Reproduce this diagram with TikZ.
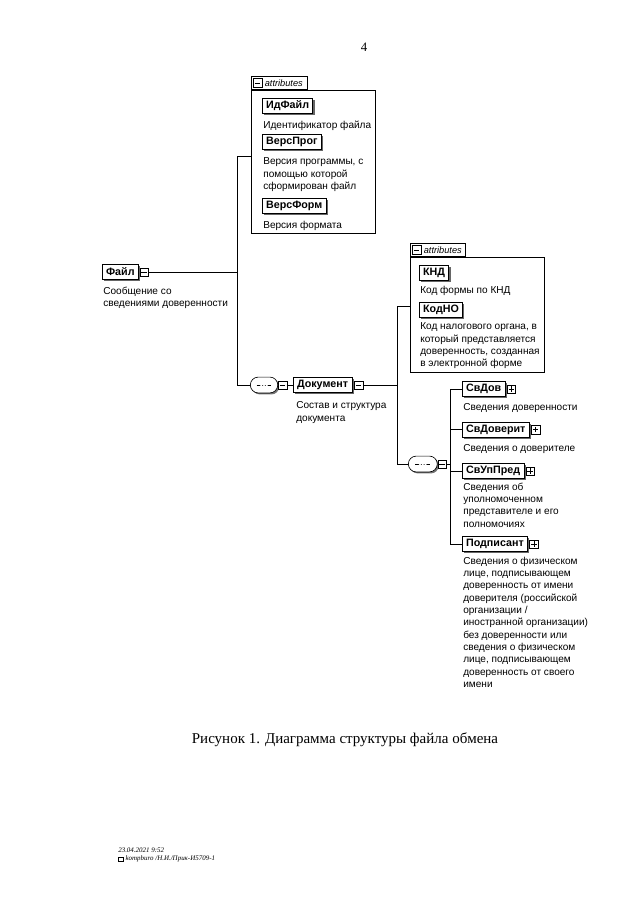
\documentclass[tikz,border=0pt]{standalone}
\usepackage{fontspec}
\setmainfont{Liberation Serif}
\setsansfont{Liberation Sans}
\usetikzlibrary{shapes.misc, shadows, fit, positioning}
\newcommand{\elemfont}{\sffamily\bfseries\fontsize{10}{12}\selectfont}
\newcommand{\descfont}{\sffamily\fontsize{9.4}{11.5}\selectfont}
\tikzset{
	elem/.style = {draw, fill = white, font = \elemfont, inner xsep = 3.5pt, inner ysep = 0pt, minimum height = 5mm, anchor = west, line width = 0.6pt,
		drop shadow = {shadow xshift = 0.6mm, shadow yshift = -0.6mm, fill = black!60, opacity = 1}},
	desc/.style = {font = \descfont, align = left, inner sep = 0pt, anchor = north west, execute at begin node = \strut},
	tog/.style = {draw, fill = white, minimum size = 2.8mm, inner sep = 0pt, line width = 0.35pt},
	minus/.style = {tog, path picture = {\draw ([xshift = 0.5mm]path picture bounding box.west) -- ([xshift = -0.5mm]path picture bounding box.east);}},
	plus/.style = {tog, path picture = {
			\draw ([xshift = 0.5mm]path picture bounding box.west) -- ([xshift = -0.5mm]path picture bounding box.east);
			\draw ([yshift = -0.5mm]path picture bounding box.north) -- ([yshift = 0.5mm]path picture bounding box.south);}},
	attrgrp/.style = {draw, inner sep = 0pt, line width = 0.45pt},
	attrtab/.style = {draw, fill = white, anchor = south west, minimum width = 18.3mm, minimum height = 4.4mm, inner sep = 0pt, line width = 0.45pt},
	tabtext/.style = {font = \sffamily\itshape\fontsize{8.6}{10}\selectfont, inner sep = 0pt},
	seq/.style = {rounded rectangle, draw, fill = white, minimum width = 9mm, minimum height = 5.2mm, inner sep = 0pt, line width = 0.6pt,
		drop shadow = {shadow xshift = 0.5mm, shadow yshift = -0.5mm, fill = black!55, opacity = 1},
		path picture = {
			\draw ([xshift = -2.4mm]path picture bounding box.center) -- ([xshift = 2.4mm]path picture bounding box.center);
			\foreach \d in {-0.9, 0, 0.9} \fill ([xshift = \d mm]path picture bounding box.center) circle (0.45mm);
		}},
}
\begin{document}
\begin{tikzpicture}[x = 0.3281mm, y = -0.3281mm, line width = 0.55pt]
	\useasboundingbox (0,0) rectangle (640,905);

	\node [font = \fontsize{12}{14}\selectfont] (pnum) at (364,47) {4};

	% root element
	\node [elem] (fajl) at (102,272) {Файл};
	\node [minus, right = 0.3mm of fajl] (fajlT) {};
	\node [desc] (fajlD) at (103,286.6) {Сообщение со\\сведениями доверенности};

	% attributes of Файл
	\node [attrgrp, fit = {(251,90) (375,233)}] (attr1) {};
	\node [attrtab] (attr1tab) at (attr1.north west) {};
	\node [minus, anchor = west] (attr1tabT) at ([xshift = 0.8mm]attr1tab.west) {};
	\node [tabtext, right = 0.8mm of attr1tabT] {attributes};

	\node [elem] (idfajl) at (262,105.5) {ИдФайл};
	\node [desc] (idfajlD) at (263,119.6) {Идентификатор файла};
	\node [elem] (versprog) at (262,142) {ВерсПрог};
	\node [desc] (versprogD) at (263,157.6) {Версия программы, с\\помощью которой\\сформирован файл};
	\node [elem] (versform) at (262,205.5) {ВерсФорм};
	\node [desc] (versformD) at (263,219.6) {Версия формата};

	% sequence of Файл
	\node [seq, anchor = west] (seq1) at (250,385) {};
	\node [minus, right = 0pt of seq1] (seq1T) {};

	\node [elem] (dok) at (293,385) {Документ};
	\node [minus, right = 0.6mm of dok] (dokT) {};
	\node [desc] (dokD) at (296,401.6) {Состав и структура\\документа};

	% attributes of Документ
	\node [attrgrp, fit = {(410,257) (544,372)}] (attr2) {};
	\node [attrtab, minimum width = 18mm] (attr2tab) at (attr2.north west) {};
	\node [minus, anchor = west] (attr2tabT) at ([xshift = 0.8mm]attr2tab.west) {};
	\node [tabtext, right = 0.8mm of attr2tabT] {attributes};

	\node [elem] (knd) at (419,272.5) {КНД};
	\node [desc] (kndD) at (420,284.6) {Код формы по КНД};
	\node [elem] (kodno) at (419,309.5) {КодНО};
	\node [desc] (kodnoD) at (420,322.6) {Код налогового органа, в\\который представляется\\доверенность, созданная\\в электронной форме};

	% sequence of Документ
	\node [seq, anchor = west, minimum width = 9.5mm] (seq2) at (408,464) {};
	\node [minus, right = 0pt of seq2] (seq2T) {};

	\node [elem] (svdov) at (462,389) {СвДов};
	\node [plus, right = 0.5mm of svdov] (svdovT) {};
	\node [desc] (svdovD) at (463,401.6) {Сведения доверенности};
	\node [elem] (svdoverit) at (462,429.5) {СвДоверит};
	\node [plus, right = 0.5mm of svdoverit] (svdoveritT) {};
	\node [desc] (svdoveritD) at (463,442.6) {Сведения о доверителе};
	\node [elem] (svuppred) at (462,471) {СвУпПред};
	\node [plus, right = 0.5mm of svuppred] (svuppredT) {};
	\node [desc] (svuppredD) at (463,482.6) {Сведения об\\уполномоченном\\представителе и его\\полномочиях};
	\node [elem] (podp) at (462,544) {Подписант};
	\node [plus, right = 0.5mm of podp] (podpT) {};
	\node [desc] (podpD) at (463,556.6) {Сведения о физическом\\лице, подписывающем\\доверенность от имени\\доверителя (российской\\организации /\\иностранной организации)\\без доверенности или\\сведения о физическом\\лице, подписывающем\\доверенность от своего\\имени};

	% connectors
	\coordinate (b1) at (237,156);
	\coordinate (b2) at (397,306);
	\coordinate (b3) at (450,464);

	\draw (b1 -| attr1.west) -- (b1) |- (seq1.west);
	\draw (fajlT.east) -- (fajlT.east -| b1);
	\draw (seq1T.east) -- (dok.west);

	\draw (b2 -| attr2.west) -- (b2) |- (seq2.west);
	\draw (dokT.east) -- (dokT.east -| b2);
	\draw (seq2T.east) -- (b3);

	\draw (svdov.west) -- (svdov.west -| b3) -- (podp.west -| b3) -- (podp.west);
	\draw (svdoverit.west) -- (svdoverit.west -| b3);
	\draw (svuppred.west) -- (svuppred.west -| b3);

	% caption and footer
	\node [font = \fontsize{14}{16}\selectfont] (cap) at (345,740) {Рисунок 1. Диаграмма структуры файла обмена};
	\node [font = \itshape\fontsize{6.5}{8}\selectfont, inner sep = 0pt, anchor = base west] (date) at (118,852) {23.04.2021 9:52};
	\node [draw, line width = 0.3pt, minimum width = 1.8mm, minimum height = 1.5mm, inner sep = 0pt, anchor = west] (ico) at (118,859) {};
	\node [font = \itshape\fontsize{6.5}{8}\selectfont, inner sep = 0pt, anchor = west, right = 0.5mm of ico] (src) {kompburo /Н.И./Прик-И5709-1};
\end{tikzpicture}
\end{document}
